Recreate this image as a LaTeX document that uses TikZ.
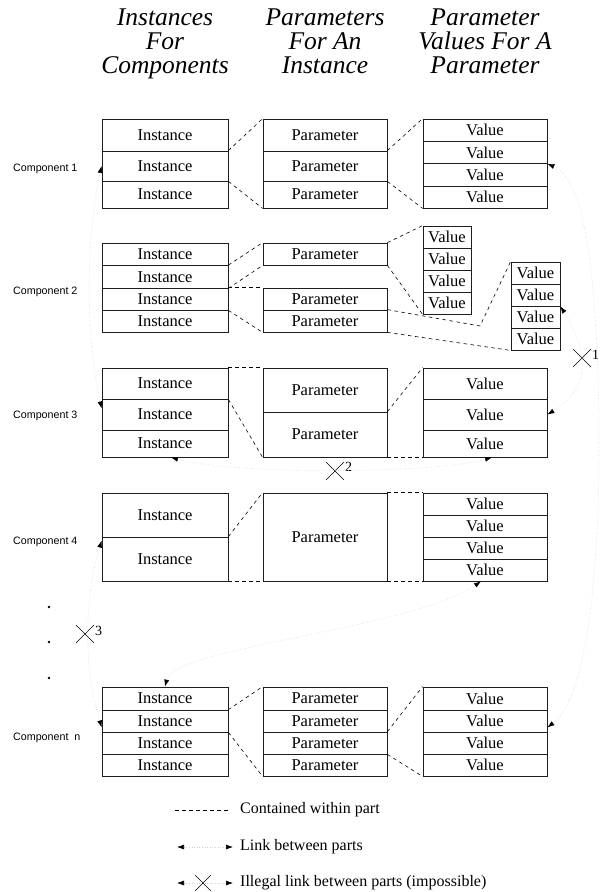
\documentclass[tikz,border=0pt]{standalone}
\usepackage{fontspec}
\setmainfont{Liberation Serif}
\setsansfont{Liberation Sans}
\usepackage{xcolor}
\usepackage{tikz}
\usetikzlibrary{arrows.meta,shapes.misc}
\definecolor{linkgray}{RGB}{210,210,210}
\definecolor{boxline}{RGB}{30,30,30}

\newcommand{\boxtxt}{\fontsize{16.5}{18}\selectfont}
\newcommand{\headtxt}{\fontsize{25.5}{24}\selectfont\itshape}
\newcommand{\comptxt}{\fontsize{10.7}{12}\selectfont\sffamily}
\newcommand{\legtxt}{\fontsize{16}{18}\selectfont}
\newcommand{\digtxt}{\fontsize{14}{14}\selectfont}

\tikzset{
  cell/.style={draw=boxline, line width=0.8pt, inner sep=0pt, font=\boxtxt},
  inst/.style={cell, minimum width=126pt},
  parm/.style={cell, minimum width=124pt},
  val/.style={cell, minimum width=124pt},
  head/.style={font=\headtxt, align=center, anchor=north, inner sep=0pt},
  comp/.style={anchor=west, font=\comptxt, inner sep=0pt},
  contain/.style={dash pattern=on 3.5pt off 3.5pt, line width=0.6pt},
  link/.style={draw=linkgray, dotted, line width=0.6pt,
    arrows={Latex[black,length=7pt,width=5pt]-Latex[black,length=7pt,width=5pt]}},
  illegal/.style={cross out, draw, minimum size=17pt, inner sep=0pt, line width=0.6pt},
  dot/.style={circle, fill, inner sep=0pt, minimum size=2.8pt}
}

\begin{document}
\begin{tikzpicture}[x=1pt,y=-1pt]
\useasboundingbox (0,0) rectangle (600,892);

% column heads
\node[head] (h1) at (165,9) {Instances\\For\\Components};
\node[head] (h2) at (325,9) {Parameters\\For An\\Instance};
\node[head] (h3) at (485,9) {Parameter\\Values For A\\Parameter};

% component 1
\node[comp] (c1) at (13,169) {Component 1};
\node[inst, minimum height=32pt] (i1a) at (165,135) {Instance};
\node[inst, minimum height=30pt] (i1b) at (165,166) {Instance};
\node[inst, minimum height=27pt] (i1c) at (165,194.5) {Instance};
\node[parm, minimum height=32pt] (p1a) at (325,135) {Parameter};
\node[parm, minimum height=30pt] (p1b) at (325,166) {Parameter};
\node[parm, minimum height=27pt] (p1c) at (325,194.5) {Parameter};
\node[val, minimum height=22.5pt] (v1a) at (485,130.25) {Value};
\node[val, minimum height=22pt] (v1b) at (485,152.5) {Value};
\node[val, minimum height=22.5pt] (v1c) at (485,174.75) {Value};
\node[val, minimum height=22pt] (v1d) at (485,197) {Value};
\draw[contain] (i1b.north east) -- (p1a.north west);
\draw[contain] (i1b.south east) -- (p1c.south west);
\draw[contain] (p1b.north east) -- (v1a.north west);
\draw[contain] (p1b.south east) -- (v1d.south west);

% component 2
\node[comp] (c2) at (13,292) {Component 2};
\node[inst, minimum height=22.5pt] (i2a) at (165,254.25) {Instance};
\node[inst, minimum height=22.5pt] (i2b) at (165,276.75) {Instance};
\node[inst, minimum height=22pt] (i2c) at (165,299) {Instance};
\node[inst, minimum height=22pt] (i2d) at (165,321) {Instance};
\node[parm, minimum height=22pt] (p2a) at (325,254) {Parameter};
\node[parm, minimum height=22pt] (p2b) at (325,299) {Parameter};
\node[parm, minimum height=22pt] (p2c) at (325,321) {Parameter};
\node[cell, minimum width=48pt, minimum height=22pt] (v2a) at (447,237) {Value};
\node[cell, minimum width=48pt, minimum height=22pt] (v2b) at (447,259) {Value};
\node[cell, minimum width=48pt, minimum height=22pt] (v2c) at (447,281) {Value};
\node[cell, minimum width=48pt, minimum height=22pt] (v2d) at (447,303) {Value};
\node[cell, minimum width=49pt, minimum height=22pt] (vv2a) at (535.5,273) {Value};
\node[cell, minimum width=49pt, minimum height=22pt] (vv2b) at (535.5,295) {Value};
\node[cell, minimum width=49pt, minimum height=22pt] (vv2c) at (535.5,317) {Value};
\node[cell, minimum width=49pt, minimum height=22pt] (vv2d) at (535.5,339) {Value};
\draw[contain] (i2b.north east) -- (p2a.north west);
\draw[contain] (i2b.south east) -- (p2a.south west);
\draw[contain] (i2c.north east) -- (p2b.north west);
\draw[contain] (i2c.south east) -- (p2c.south west);
\draw[contain] (p2a.north east) -- (v2a.north west);
\draw[contain] (p2a.south east) -- (v2d.south west);
\coordinate (kink) at (480,326);
\draw[contain] (p2c.north east) -- (kink) -- (vv2a.north west);
\draw[contain] (p2c.south east) -- (vv2d.south west);

% component 3
\node[comp] (c3) at (13,416) {Component 3};
\node[inst, minimum height=31pt] (i3a) at (165,383.5) {Instance};
\node[inst, minimum height=31pt] (i3b) at (165,414.5) {Instance};
\node[inst, minimum height=27pt] (i3c) at (165,443.5) {Instance};
\node[parm, minimum height=44pt] (p3a) at (325,390) {Parameter};
\node[parm, minimum height=45pt] (p3b) at (325,434.5) {Parameter};
\node[val, minimum height=31pt] (v3a) at (485,383.5) {Value};
\node[val, minimum height=31pt] (v3b) at (485,414.5) {Value};
\node[val, minimum height=27pt] (v3c) at (485,443.5) {Value};
\draw[contain] (i3a.north east) -- (p3a.north west);
\draw[contain] (i3a.south east) -- (p3b.south west);
\draw[contain] (p3b.north east) -- (v3a.north west);
\draw[contain] (p3b.south east) -- (v3c.south west);

% component 4
\node[comp] (c4) at (13,542) {Component 4};
\node[inst, minimum height=44pt] (i4a) at (165,515) {Instance};
\node[inst, minimum height=44pt] (i4b) at (165,559) {Instance};
\node[parm, minimum height=88pt] (p4) at (325,537) {Parameter};
\node[val, minimum height=22pt] (v4a) at (485,504) {Value};
\node[val, minimum height=22pt] (v4b) at (485,526) {Value};
\node[val, minimum height=22pt] (v4c) at (485,548) {Value};
\node[val, minimum height=22pt] (v4d) at (485,570) {Value};
\draw[contain] (i4b.north east) -- (p4.north west);
\draw[contain] (i4b.south east) -- (p4.south west);
\draw[contain] (p4.north east) -- (v4a.north west);
\draw[contain] (p4.south east) -- (v4d.south west);

\node[dot] (d1) at (49,607) {};
\node[dot] (d2) at (49,642) {};
\node[dot] (d3) at (49,678) {};

% component n
\node[comp] (cn) at (13,738) {Component~~n};
\node[inst, minimum height=23pt] (ina) at (165,698.5) {Instance};
\node[inst, minimum height=22pt] (inb) at (165,721) {Instance};
\node[inst, minimum height=22pt] (inc) at (165,743) {Instance};
\node[inst, minimum height=22pt] (ind) at (165,765) {Instance};
\node[parm, minimum height=23pt] (pna) at (325,698.5) {Parameter};
\node[parm, minimum height=22pt] (pnb) at (325,721) {Parameter};
\node[parm, minimum height=22pt] (pnc) at (325,743) {Parameter};
\node[parm, minimum height=22pt] (pnd) at (325,765) {Parameter};
\node[val, minimum height=23pt] (vna) at (485,698.5) {Value};
\node[val, minimum height=22pt] (vnb) at (485,721) {Value};
\node[val, minimum height=22pt] (vnc) at (485,743) {Value};
\node[val, minimum height=22pt] (vnd) at (485,765) {Value};
\draw[contain] (inb.north east) -- (pna.north west);
\draw[contain] (inb.south east) -- (pnd.south west);
\draw[contain] (pnc.north east) -- (vna.north west);
\draw[contain] (pnc.south east) -- (vnd.south west);

% links between parts
\node[illegal, label={[font=\digtxt, anchor=west, inner sep=1pt, yshift=3pt]east:1}] (bad1) at (582,358) {};
\node[illegal, label={[font=\digtxt, anchor=west, inner sep=1pt, yshift=4pt]east:2}] (bad2) at (335,471) {};
\node[illegal, label={[font=\digtxt, anchor=west, inner sep=1pt, yshift=3pt]east:3}] (bad3) at (85,634) {};
\coordinate (rim) at (599,450);

\draw[link] (i1b.west) .. controls +(-16,70) and +(-16,-70) .. ([yshift=6pt]i3b.west);
\draw[link] ([yshift=-4pt]i4b.north west) .. controls +(-18,60) and +(-18,-60) .. ([yshift=5pt]inb.south west);
\draw[link] ([xshift=6pt]i3c.south) .. controls +(60,17) and +(-60,17) .. ([xshift=7pt]v3c.south);
\draw[link] ([xshift=-4pt]v4d.south) .. controls +(-70,48) and +(10,-40) .. (ina.north);
\draw[link] (v1b.south east) .. controls +(45,18) and +(0,-120) .. (rim) .. controls +(0,120) and +(40,-30) .. ([yshift=5pt]vnb.south east);
\draw[link] (vv2b.south east) .. controls +(12,18) and +(-2,-15) .. (bad1.center) .. controls +(2,25) and +(25,-15) .. (v3b.east);

% legend
\coordinate (k1a) at (175,810);
\coordinate (k1b) at (228,810);
\draw[contain] (k1a) -- (k1b);
\node[anchor=west, font=\legtxt, inner sep=0pt] (k1) at (240,810) {Contained within part};
\coordinate (k2a) at (177,847);
\coordinate (k2b) at (233,847);
\draw[link] (k2a) -- (k2b);
\node[anchor=west, font=\legtxt, inner sep=0pt] (k2) at (240,847) {Link between parts};
\coordinate (k3a) at (177,883);
\coordinate (k3b) at (233,883);
\draw[link] (k3a) -- (k3b);
\node[illegal, minimum size=15pt] (k3x) at (203,883) {};
\node[anchor=west, font=\legtxt, inner sep=0pt] (k3) at (240,883) {Illegal link between parts (impossible)};

\end{tikzpicture}
\end{document}
